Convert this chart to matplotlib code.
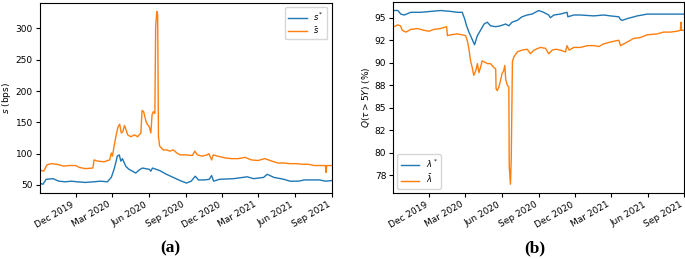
import matplotlib
matplotlib.use("Agg")
import matplotlib.pyplot as plt
import matplotlib.dates as mdates
import matplotlib.ticker as mticker
import pandas as pd

# ---- panel (a): spreads in bps ----
s_bar_dates = [
    "2019-09-02", "2019-09-12", "2019-09-20", "2019-10-01", "2019-10-15", "2019-11-01",
    "2019-11-15", "2019-12-01", "2019-12-10", "2019-12-25", "2020-01-13", "2020-01-16",
    "2020-01-25", "2020-02-10", "2020-02-24", "2020-02-28", "2020-03-02", "2020-03-06",
    "2020-03-12", "2020-03-16", "2020-03-20", "2020-03-24", "2020-03-28", "2020-04-01",
    "2020-04-05", "2020-04-09", "2020-04-17", "2020-04-26", "2020-05-04", "2020-05-12",
    "2020-05-15", "2020-05-19", "2020-05-25", "2020-05-29", "2020-06-02", "2020-06-06",
    "2020-06-09", "2020-06-12", "2020-06-16", "2020-06-18", "2020-06-19", "2020-06-21",
    "2020-06-23", "2020-06-25", "2020-06-28", "2020-07-07", "2020-07-15", "2020-07-24",
    "2020-08-01", "2020-08-10", "2020-08-18", "2020-09-01", "2020-09-18", "2020-09-24",
    "2020-09-30", "2020-10-12", "2020-10-25", "2020-10-29", "2020-11-05", "2020-11-09",
    "2020-11-20", "2020-12-10", "2020-12-25", "2021-01-10", "2021-01-28", "2021-02-12",
    "2021-03-01", "2021-03-18", "2021-04-05", "2021-04-20", "2021-05-05", "2021-05-20",
    "2021-06-05", "2021-06-20", "2021-07-05", "2021-07-20", "2021-08-05", "2021-08-17",
    "2021-08-18", "2021-08-20", "2021-09-01",
]
s_bar = [
    74, 72, 82, 84, 83, 80,
    81, 81, 78, 76, 77, 90,
    88, 87, 90, 101, 96, 112,
    132, 143, 147, 133, 135, 145,
    138, 130, 127, 130, 127, 133,
    169, 167, 151, 146, 143, 133,
    162, 167, 164, 301, 311, 327,
    322, 127, 112, 106, 106, 104,
    106, 101, 98, 98, 97, 104,
    98, 96, 98, 100, 90, 98,
    96, 93, 92, 92, 94, 90,
    89, 92, 88, 85, 85, 84,
    84, 83, 83, 81, 81, 81,
    70, 81, 81,
]

s_star_dates = [
    "2019-09-02", "2019-09-10", "2019-09-18", "2019-10-05", "2019-10-20", "2019-11-05",
    "2019-11-20", "2019-12-05", "2019-12-25", "2020-01-15", "2020-02-01", "2020-02-18",
    "2020-02-28", "2020-03-06", "2020-03-10", "2020-03-14", "2020-03-19", "2020-03-23",
    "2020-03-27", "2020-04-04", "2020-04-12", "2020-04-21", "2020-04-29", "2020-05-08",
    "2020-05-16", "2020-05-24", "2020-06-02", "2020-06-06", "2020-06-10", "2020-06-19",
    "2020-06-28", "2020-07-15", "2020-08-01", "2020-08-18", "2020-09-03", "2020-09-15",
    "2020-09-25", "2020-10-03", "2020-10-18", "2020-10-30", "2020-11-05", "2020-11-10",
    "2020-11-25", "2020-12-30", "2021-02-02", "2021-02-18", "2021-03-15", "2021-03-24",
    "2021-04-10", "2021-05-05", "2021-05-20", "2021-06-10", "2021-06-25", "2021-08-01",
    "2021-08-18", "2021-09-01",
]
s_star = [
    53, 51, 59, 60, 56, 55,
    56, 55, 54, 55, 56, 55,
    62, 75, 85, 96, 98, 88,
    92, 80, 75, 72, 69, 74,
    77, 76, 75, 72, 77, 75,
    73, 67, 62, 57, 53, 56,
    64, 58, 58, 59, 65, 56,
    59, 60, 63, 60, 62, 67,
    62, 59, 56, 56, 58, 58,
    56, 57,
]

# ---- panel (b): survival probability Q(tau > 5Y) in % ----
lam_star_dates = [
    "2019-09-04", "2019-09-14", "2019-09-21", "2019-09-30", "2019-10-16", "2019-11-10",
    "2019-12-05", "2019-12-30", "2020-01-24", "2020-02-10", "2020-02-22", "2020-02-28",
    "2020-03-04", "2020-03-10", "2020-03-16", "2020-03-21", "2020-03-24", "2020-03-31",
    "2020-04-08", "2020-04-17", "2020-04-25", "2020-05-03", "2020-05-16", "2020-05-28",
    "2020-06-10", "2020-06-18", "2020-06-26", "2020-07-09", "2020-07-21", "2020-08-03",
    "2020-08-15", "2020-09-01", "2020-09-13", "2020-09-26", "2020-09-30", "2020-10-09",
    "2020-10-25", "2020-11-11", "2020-11-13", "2020-11-28", "2020-12-15", "2021-01-17",
    "2021-02-11", "2021-02-28", "2021-03-21", "2021-03-25", "2021-03-29", "2021-04-11",
    "2021-05-06", "2021-05-31", "2021-07-03", "2021-08-05", "2021-09-01",
]
lam_star = [
    95.8, 95.8, 95.4, 95.3, 95.6, 95.6,
    95.7, 95.8, 95.7, 95.6, 95.6, 94.9,
    94.1, 93.4, 92.8, 92.3, 92.0, 93.0,
    93.6, 94.3, 94.5, 94.1, 94.0, 94.1,
    94.3, 94.1, 94.5, 94.7, 95.1, 95.3,
    95.4, 95.8, 95.6, 95.3, 95.0, 95.3,
    95.4, 95.6, 95.1, 95.3, 95.3, 95.2,
    95.3, 95.2, 95.1, 94.8, 94.7, 94.9,
    95.2, 95.4, 95.4, 95.4, 95.4,
]

lam_bar_dates = [
    "2019-09-04", "2019-09-13", "2019-09-20", "2019-09-25", "2019-10-04", "2019-10-16",
    "2019-11-02", "2019-11-18", "2019-12-01", "2019-12-13", "2019-12-30", "2020-01-14",
    "2020-01-16", "2020-01-24", "2020-02-10", "2020-02-22", "2020-03-02", "2020-03-06",
    "2020-03-10", "2020-03-14", "2020-03-18", "2020-03-22", "2020-03-27", "2020-03-31",
    "2020-04-04", "2020-04-08", "2020-04-12", "2020-04-17", "2020-04-25", "2020-05-03",
    "2020-05-11", "2020-05-16", "2020-05-17", "2020-05-20", "2020-05-24", "2020-05-28",
    "2020-06-01", "2020-06-05", "2020-06-08", "2020-06-10", "2020-06-14", "2020-06-18",
    "2020-06-19", "2020-06-22", "2020-06-24", "2020-06-27", "2020-06-30", "2020-07-09",
    "2020-07-21", "2020-08-03", "2020-08-11", "2020-08-20", "2020-09-05", "2020-09-18",
    "2020-09-26", "2020-10-05", "2020-10-14", "2020-10-25", "2020-11-07", "2020-11-11",
    "2020-11-16", "2020-11-28", "2020-12-15", "2021-01-01", "2021-01-17", "2021-01-30",
    "2021-02-11", "2021-02-28", "2021-03-21", "2021-03-25", "2021-04-11", "2021-04-27",
    "2021-05-14", "2021-05-31", "2021-06-25", "2021-07-11", "2021-07-28", "2021-08-14",
    "2021-08-22", "2021-08-24", "2021-08-25", "2021-09-01",
]
lam_bar = [
    94.0, 94.2, 94.1, 93.6, 93.4, 93.7,
    93.8, 93.6, 93.5, 93.7, 93.8, 94.0,
    93.0, 93.1, 93.2, 93.1, 93.0, 92.4,
    91.5, 90.2, 89.5, 88.6, 89.1, 89.9,
    88.9, 89.5, 90.2, 90.1, 89.9, 89.9,
    89.5, 89.3, 87.1, 86.9, 87.3, 88.0,
    88.8, 89.1, 89.7, 88.2, 87.5, 87.3,
    78.5, 76.5, 79.3, 90.1, 90.6, 91.2,
    91.4, 91.5, 91.0, 91.4, 91.7, 91.6,
    91.0, 91.4, 91.5, 91.4, 91.2, 91.9,
    91.4, 91.7, 91.7, 91.9, 91.9, 91.8,
    92.1, 92.3, 92.5, 91.9, 92.3, 92.7,
    92.8, 93.1, 93.2, 93.4, 93.4, 93.5,
    93.6, 94.5, 93.6, 93.6,
]

x_start, x_end = pd.Timestamp("2019-09-02"), pd.Timestamp("2021-09-01")
tick_fs = 6.5
leg_kw = dict(fontsize=6, handlelength=2.2, labelspacing=0.3, borderpad=0.4)

fig = plt.figure(figsize=(6.85, 2.59), dpi=100)
ax_a = fig.add_axes([0.058, 0.255, 0.426, 0.734])
ax_b = fig.add_axes([0.574, 0.255, 0.425, 0.738])

ax_a.plot(pd.to_datetime(s_star_dates), s_star, color="#1f77b4", lw=1.0, label="$s^*$")
ax_a.plot(pd.to_datetime(s_bar_dates), s_bar, color="#ff7f0e", lw=1.0, label=r"$\bar{s}$")
ax_a.set_ylabel("$s$ (bps)", fontsize=tick_fs, labelpad=2)
ax_a.set_yticks([50, 100, 150, 200, 250, 300])
ax_a.legend(loc="upper right", **leg_kw)

ax_b.plot(pd.to_datetime(lam_star_dates), lam_star, color="#1f77b4", lw=1.0, label=r"$\lambda^*$")
ax_b.plot(pd.to_datetime(lam_bar_dates), lam_bar, color="#ff7f0e", lw=1.0, label=r"$\bar{\lambda}$")
ax_b.set_ylabel(r"$Q(\tau > 5Y)$ (%)", fontsize=tick_fs, labelpad=2)
ax_b.yaxis.set_major_locator(mticker.MultipleLocator(2.5))
ax_b.yaxis.set_major_formatter(mticker.FormatStrFormatter("%.0f"))
ax_b.legend(loc="lower left", **leg_kw)

for ax in (ax_a, ax_b):
    ax.set_xlim(x_start, x_end)
    ax.xaxis.set_major_locator(mdates.MonthLocator(bymonth=[3, 6, 9, 12]))
    ax.xaxis.set_major_formatter(mdates.DateFormatter("%b %Y"))
    ax.tick_params(labelsize=tick_fs, length=3, pad=2)
    for lbl in ax.get_xticklabels():
        lbl.set_rotation(30)
        lbl.set_ha("right")

fig.text(0.248, 0.042, "(a)", family="Liberation Serif", weight="bold", fontsize=12.5,
         ha="center", va="center")
fig.text(0.781, 0.042, "(b)", family="Liberation Serif", weight="bold", fontsize=12.5,
         ha="center", va="center")

fig.savefig("out.png", dpi=100)
